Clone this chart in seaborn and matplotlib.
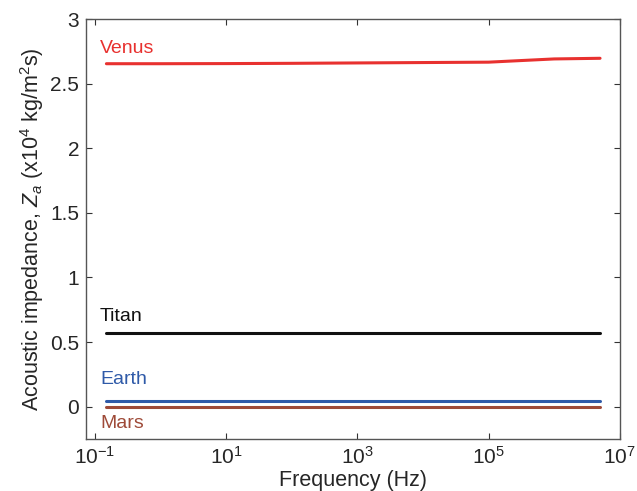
import numpy as np
import pandas as pd
import matplotlib
matplotlib.use("Agg")
import matplotlib.pyplot as plt
import seaborn as sns

# Data
freq = [0.15, 1, 10, 100, 1e3, 1e4, 1e5, 3e5, 1e6, 5e6]
venus = [2.655, 2.655, 2.656, 2.658, 2.661, 2.664, 2.667, 2.679, 2.692, 2.697]
titan = [0.574] * len(freq)
earth = [0.041] * len(freq)
mars = [0.0004] * len(freq)

planets = ["Venus", "Titan", "Earth", "Mars"]
colors = {"Venus": "#e8312f", "Titan": "#111111", "Earth": "#2f5aa8", "Mars": "#9e4a38"}

rows = []
for name, vals in zip(planets, [venus, titan, earth, mars]):
    for f, v in zip(freq, vals):
        rows.append({"freq": f, "Z": v, "planet": name})
df = pd.DataFrame(rows)

sns.set_theme(style="ticks")
plt.rcParams["font.family"] = ["Liberation Sans", "DejaVu Sans"]
plt.rcParams["mathtext.fontset"] = "custom"
plt.rcParams["mathtext.rm"] = "Liberation Sans"
plt.rcParams["mathtext.it"] = "Liberation Sans:italic"

fig = plt.figure(figsize=(6.37, 4.91), dpi=100)
ax = fig.add_axes([0.135, 0.106, 0.838, 0.855])

sns.lineplot(data=df, x="freq", y="Z", hue="planet", palette=colors,
             estimator=None, linewidth=2.2, legend=False, ax=ax)

ax.set_xscale("log")
ax.set_xlim(10**-1.135, 1e7)
ax.set_ylim(-0.25, 3)
ax.set_xticks([1e-1, 1e1, 1e3, 1e5, 1e7])
ax.set_xticklabels(["$10^{-1}$", "$10^{1}$", "$10^{3}$", "$10^{5}$", "$10^{7}$"])
ax.set_yticks([0, 0.5, 1, 1.5, 2, 2.5, 3])
ax.set_yticklabels(["0", "0.5", "1", "1.5", "2", "2.5", "3"])
ax.minorticks_off()
ax.xaxis.set_minor_locator(matplotlib.ticker.NullLocator())
ax.tick_params(direction="in", top=True, right=True, labelsize=15, length=4,
               width=0.8, color="#333333", pad=5)
for s in ax.spines.values():
    s.set_color("#555555")
    s.set_linewidth(1.0)

ax.set_xlabel("Frequency (Hz)", fontsize=15.5, labelpad=1.5)
ax.set_ylabel("Acoustic impedance, $Z_a$ (x10$^4$ kg/m$^2$s)", fontsize=15.5, labelpad=3)

label_y = {"Venus": 2.77, "Titan": 0.695, "Earth": 0.207, "Mars": -0.134}
for name in planets:
    ax.text(0.12, label_y[name], name, color=colors[name], fontsize=14,
            ha="left", va="center")

fig.savefig("out.png", dpi=100)
